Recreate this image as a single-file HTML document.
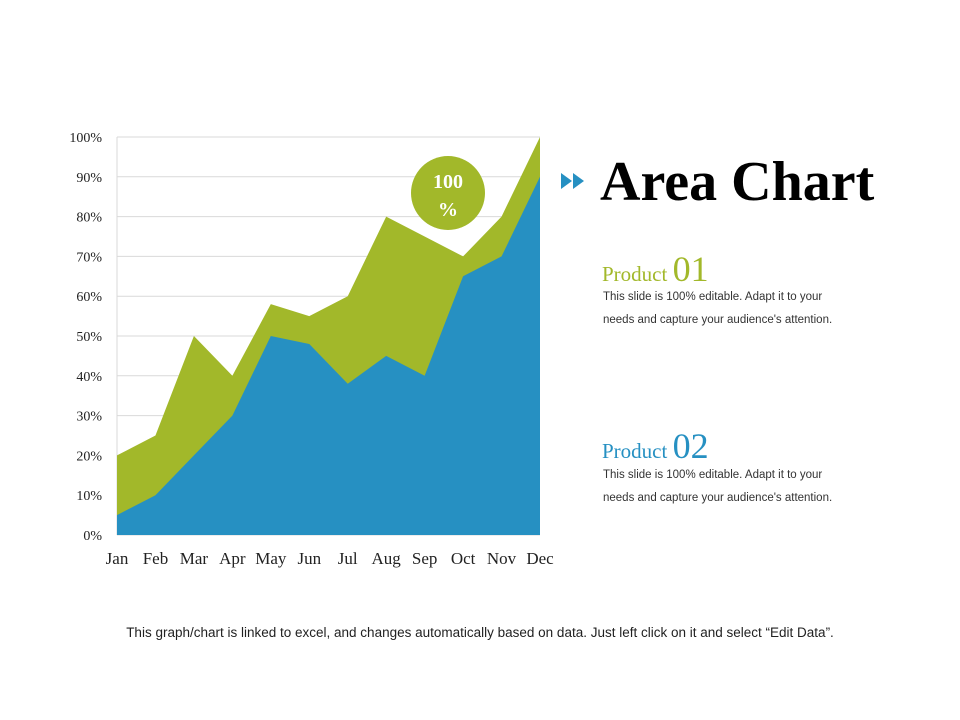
<!DOCTYPE html>
<html><head><meta charset="utf-8"><style>
body{margin:0;background:#fff;width:960px;height:720px;overflow:hidden;position:relative;font-family:"Liberation Sans",sans-serif}
.abs{position:absolute}
.serif{font-family:"Liberation Serif",serif}
.desc{font-size:11.5px;color:#333;line-height:23px}
</style></head><body>
<svg class="abs" style="left:0;top:0" width="960" height="720">
<g id="grid"></g><g id="areas"></g><g id="labels"></g>
<circle cx="448" cy="193" r="37" fill="#a2b82a"/>
<text x="448" y="188" text-anchor="middle" font-family="Liberation Serif" font-size="20" font-weight="bold" fill="#fff">100</text>
<text x="448" y="216" text-anchor="middle" font-family="Liberation Serif" font-size="20" font-weight="bold" fill="#fff">%</text>
<polygon points="561,173 572,181 561,189" fill="#2690c2"/>
<polygon points="573,173 584,181 573,189" fill="#2690c2"/>
</svg>
<div class="abs serif" style="left:600px;top:150px;font-size:56px;font-weight:bold;color:#000">Area Chart</div>
<div class="abs serif" style="left:602px;top:248px;font-size:21px;color:#a2b82a">Product <span style="font-size:36px">01</span></div>
<div class="abs desc" style="left:603px;top:286px">This slide is 100% editable. Adapt it to your<br>needs and capture your audience's attention.</div>
<div class="abs serif" style="left:602px;top:425px;font-size:21px;color:#2690c2">Product <span style="font-size:36px">02</span></div>
<div class="abs desc" style="left:603px;top:464px">This slide is 100% editable. Adapt it to your<br>needs and capture your audience's attention.</div>
<div class="abs" style="left:0;width:960px;top:625px;text-align:center;font-size:13.5px;color:#222">This graph/chart is linked to excel, and changes automatically based on data. Just left click on it and select “Edit Data”.</div>
<script>
const categories=["Jan","Feb","Mar","Apr","May","Jun","Jul","Aug","Sep","Oct","Nov","Dec"];
const product2=[5,10,20,30,50,48,38,45,40,65,70,90];
const total=[20,25,50,40,58,55,60,80,75,70,80,100];
const yTicks=[0,10,20,30,40,50,60,70,80,90,100];
const NS="http://www.w3.org/2000/svg";
const x0=117,x1=540,y0=535,y1=137;
const xs=i=>x0+(x1-x0)*i/(categories.length-1);
const ys=v=>y0-(y0-y1)*v/100;
function mk(t,a){const e=document.createElementNS(NS,t);for(const k in a)e.setAttribute(k,a[k]);return e;}
const grid=document.getElementById('grid'),areas=document.getElementById('areas'),labels=document.getElementById('labels');
yTicks.forEach(v=>{
 const l=mk('line',{x1:x0,x2:x1,y1:ys(v),y2:ys(v),stroke:'#d9d9d9','stroke-width':1});
 
 
 grid.appendChild(l);
 const t=mk('text',{x:102,y:ys(v)+5,'text-anchor':'end','font-family':'Liberation Serif','font-size':14,fill:'#222'});
 t.textContent=v+'%';
 
 
 labels.appendChild(t);
});
const ax=mk('line',{x1:x0,x2:x0,y1:y1,y2:y0,stroke:'#d9d9d9'});
grid.appendChild(ax);
function poly(vals){return vals.map((v,i)=>xs(i)+','+ys(v)).join(' ')+' '+x1+','+y0+' '+x0+','+y0;}
const g=mk('polygon',{points:poly(total),fill:'#a2b82a'});


areas.appendChild(g);
const b=mk('polygon',{points:poly(product2),fill:'#2690c2'});


areas.appendChild(b);
categories.forEach((c,i)=>{
 const t=mk('text',{x:xs(i),y:564,'text-anchor':'middle','font-family':'Liberation Serif','font-size':17,fill:'#222'});
 t.textContent=c;
 
 
 labels.appendChild(t);
});
</script>
</body></html>
